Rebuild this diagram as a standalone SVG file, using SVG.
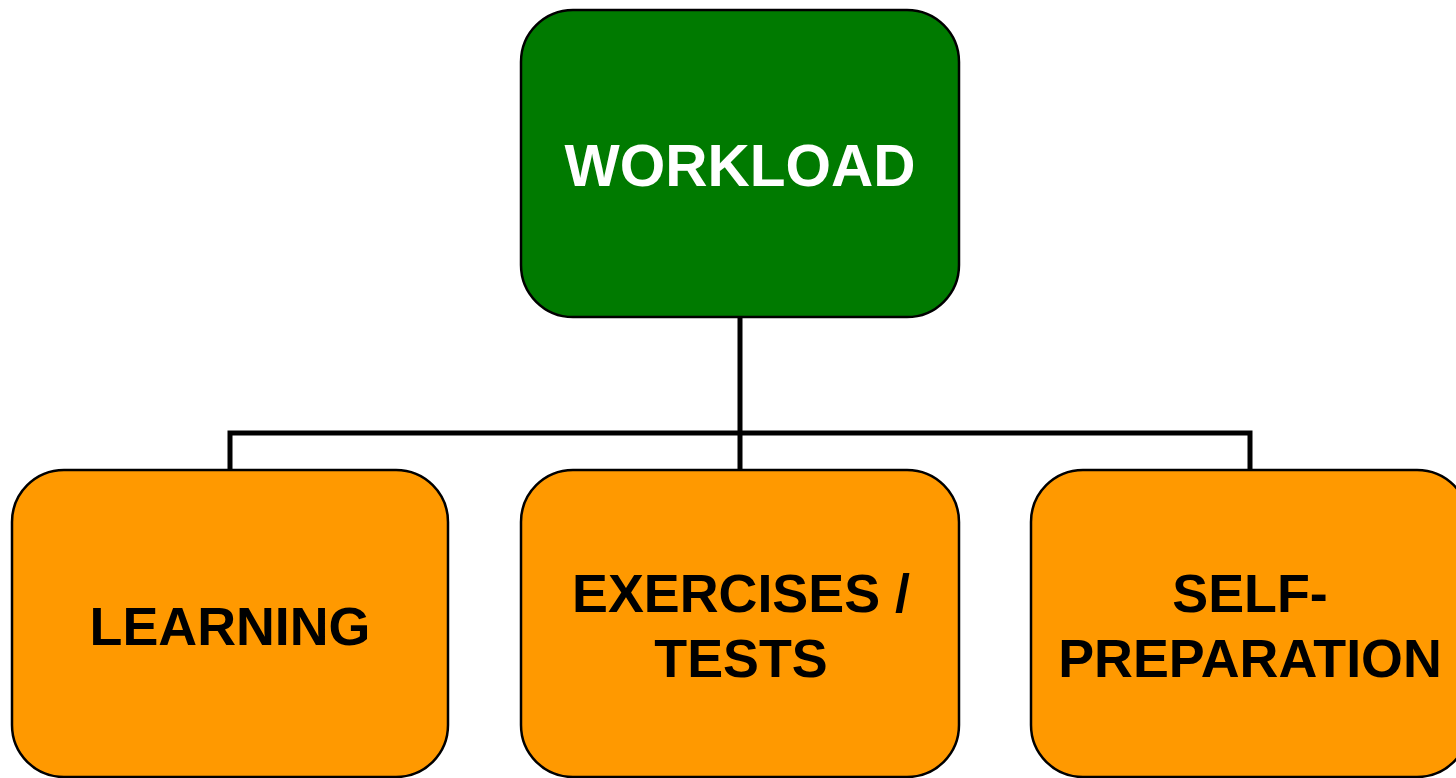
<svg xmlns="http://www.w3.org/2000/svg" width="1456" height="778" viewBox="0 0 1456 778">
<style>
.box{stroke:#000;stroke-width:2.5}
.top{fill:#007A00}
.sub{fill:#FF9900}
.t{font-family:"Liberation Sans",Arial,sans-serif;font-weight:bold;text-anchor:middle}
.tw{fill:#fff;font-size:58.5px}
.tb{fill:#000;font-size:53.8px}
.conn{fill:none;stroke:#000;stroke-width:5}
</style>
<rect width="1456" height="778" fill="#fff"/>
<g id="connectors">
<polyline class="conn" points="740,317 740,470"/>
<polyline class="conn" points="230,470 230,433 1250,433 1250,470"/>
</g>
<g id="workload">
<rect class="box top" x="521" y="10" width="438" height="307" rx="52"/>
<text class="t tw" x="740" y="186">WORKLOAD</text>
</g>
<g id="learning">
<rect class="box sub" x="12" y="470" width="436" height="307" rx="52"/>
<text class="t tb" x="230" y="645">LEARNING</text>
</g>
<g id="exercises">
<rect class="box sub" x="521" y="470" width="438" height="307" rx="52"/>
<text class="t tb" x="741" y="612">EXERCISES /</text>
<text class="t tb" x="741" y="677">TESTS</text>
</g>
<g id="selfprep">
<rect class="box sub" x="1031" y="470" width="438" height="307" rx="52"/>
<text class="t tb" x="1250" y="612">SELF-</text>
<text class="t tb" x="1250" y="677">PREPARATION</text>
</g>
</svg>
